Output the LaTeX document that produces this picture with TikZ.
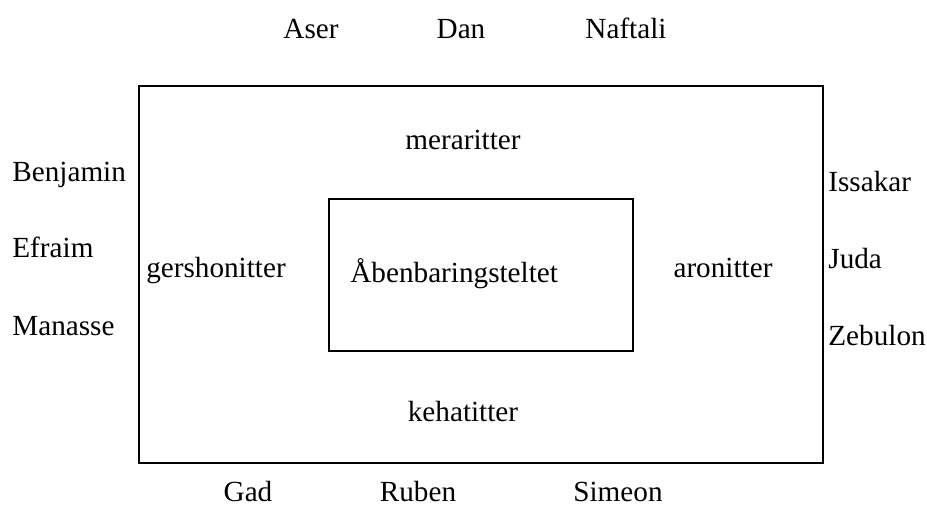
\documentclass[tikz,border=0pt]{standalone}
\usepackage{fontspec}
\setmainfont{Liberation Serif}
\usepackage{tikz}

\begin{document}
\begin{tikzpicture}[x=0.5pt,y=-0.5pt,
  every node/.style={inner sep=0pt, font=\fontsize{14.6}{17}\selectfont},
  campname/.style={anchor=base},
  sidename/.style={anchor=base west}]
 \useasboundingbox (0,0) rectangle (927,517);
 \draw[line width=0.6pt] (139,86) rectangle (823,463);
 \draw[line width=0.6pt] (329,199) rectangle (633,351);
          \begin{scope}[every node/.append style={campname}]
          \node (aser) at (311,39) {Aser};
          \node (dan) at (461,39) {Dan};
          \node (naftali) at (626,39) {Naftali};
          \node (merari) at (463,150) {meraritter};
          \node (gershon) at (216,278) {gershonitter};
          \node (aron) at (723,278) {aronitter};
          \node (kehat) at (463,422) {kehatitter};
          \node (gad) at (248,502) {Gad};
          \node (ruben) at (418,502) {Ruben};
          \node (simeon) at (618,502) {Simeon};
          \end{scope}
          \begin{scope}[every node/.append style={sidename}]
          \node (benjamin) at (12,182) {Benjamin};
          \node (efraim) at (12,258) {Efraim};
          \node (manasse) at (12,336) {Manasse};
          \node (issakar) at (828,192) {Issakar};
          \node (juda) at (828,269) {Juda};
          \node (zebulon) at (828,346) {Zebulon};
          \node (telt) at (350,283) {Åbenbaringsteltet};
          \end{scope}
          \end{tikzpicture}
\end{document}
